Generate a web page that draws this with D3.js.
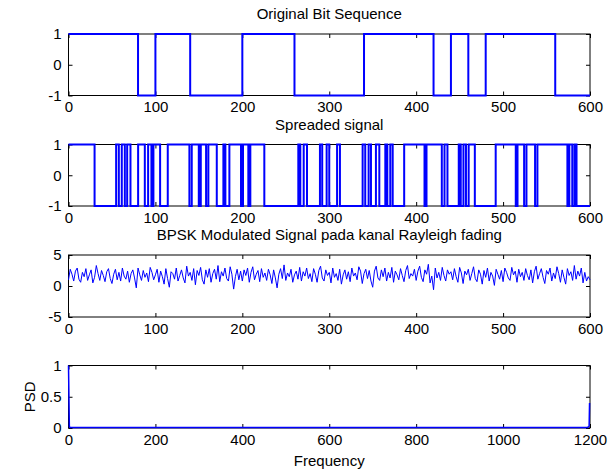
<!DOCTYPE html>
<html><head><meta charset="utf-8">
<script src="https://cdn.jsdelivr.net/npm/d3@7"></script>
<style>
body{margin:0;background:#fff}
text{font-family:"Liberation Sans",Arial,Helvetica,sans-serif;fill:#000}
</style>
</head><body>
<svg id="chart" width="616" height="472"></svg>
<script>
// ---------- data ----------
const titles = ["Original Bit Sequence", "Spreaded signal", "BPSK Modulated Signal pada kanal Rayleigh fading", ""];
const bitValues = [1,1,1,1,-1,1,1,-1,-1,-1,1,1,1,-1,-1,-1,-1,1,1,1,1,-1,1,-1,1,1,1,1,-1,-1];
const bitLength = 20;
const spreadStartLevel = 1;
const spreadTransitions = [30,54.8,57.9,61.3,64.8,67.5,71.3,80.1,87.8,91.6,95.4,97.7,105.4,114.2,139.1,141.8,
  149.9,152.2,158.3,160.9,170.6,178.2,180.5,185.1,198.5,200.8,206.9,209.2,225.3,264.4,266.7,270.6,274.4,
  289.3,291.9,297,300,309,312.3,338.4,341.4,345.3,348,353.7,357.6,364.5,366.8,370.2,373,386.2,409.6,411.9,
  429.5,432.6,436,449,451.3,454.4,457.3,460.4,467.5,491.5,514.6,516.6,524.2,526.9,536.8,539.5,574,576.2,
  579.6,582.2,584.5];
const bpskStep = 2;
const bpskValues = [
 1.0,2.7,1.9,0.8,2.4,2.9,1.1,0.6,2.2,1.5,2.8,0.9,1.8,2.6,0.5,1.4,3.3,2.0,0.9,2.5,
 1.7,0.7,2.3,2.8,1.2,0.4,1.9,2.7,1.0,2.2,0.8,2.9,1.6,1.1,2.4,0.6,2.0,2.6,1.3,-0.3,
 2.9,1.8,0.9,2.5,1.4,2.1,0.7,3.0,2.2,1.0,1.8,2.7,0.6,2.4,1.5,0.3,2.8,1.2,-0.2,2.3,
 2.0,1.1,2.9,0.8,1.7,2.6,1.3,0.5,3.2,1.6,2.2,0.9,2.8,0.2,2.5,1.7,3.0,1.0,0.3,2.6,
 1.4,2.8,0.6,2.0,2.7,1.1,3.3,0.7,2.3,1.6,2.9,1.2,0.8,3.1,1.9,-0.5,1.5,2.7,1.0,2.4,
 0.8,2.6,1.7,2.9,0.6,2.2,3.1,1.0,1.9,2.5,0.7,2.8,1.4,2.1,0.9,2.7,1.8,0.4,2.6,1.3,
 -0.3,1.9,2.8,1.2,3.4,0.9,2.1,1.5,2.7,0.6,1.8,2.4,1.1,3.0,0.8,2.3,1.6,2.9,1.2,2.0,
 0.7,2.8,1.9,0.6,2.5,3.2,1.3,0.8,2.6,1.7,2.2,0.5,2.9,1.4,2.0,0.9,2.7,0.3,1.8,2.6,
 1.1,2.3,0.7,2.9,1.6,2.1,1.0,3.1,2.4,0.4,2.0,2.7,1.2,2.5,0.8,-0.2,2.4,3.2,1.3,0.9,
 2.6,1.5,2.9,0.8,2.2,1.3,3.0,0.6,2.4,1.8,1.0,2.8,1.7,0.7,2.5,3.3,1.2,2.0,1.6,2.7,
 0.9,2.4,3.2,1.4,0.7,2.6,1.9,3.5,0.5,1.6,-0.6,2.9,1.3,2.2,0.9,3.0,1.7,0.8,2.6,1.9,
 2.3,1.0,2.8,1.5,0.6,3.0,2.1,0.4,2.4,1.8,2.7,0.9,2.0,3.1,1.2,0.7,2.6,1.9,0.3,2.5,
 1.4,2.9,0.8,2.2,1.6,0.1,2.7,1.9,1.1,2.5,0.7,2.9,2.2,1.3,0.9,3.0,1.8,2.4,0.6,2.7,
 1.5,2.2,0.9,2.8,1.7,1.0,2.6,0.5,2.3,3.2,1.1,2.0,2.8,1.4,0.4,2.5,1.9,2.9,0.8,2.1,
 1.2,3.1,2.0,0.6,2.6,1.4,0.3,2.8,1.7,2.3,0.9,3.3,1.1,2.4,1.6,2.9,0.5,2.2,0.8,1.5,
 1.0];
const psdFreq   = [0, 2, 4, 600, 1194, 1197, 1198, 1199];
const psdValues = [1, 0.02, 0.01, 0.01, 0.01, 0.02, 0.03, 0.4];
const timeTicks = [0,100,200,300,400,500,600];
const freqTicks = [0,200,400,600,800,1000,1200];
const bitTicks = [-1,0,1];
const bpskTicks = [-5,0,5];
const psdTicks = [0,0.5,1];
const xLabelText = "Frequency";
const yLabelText = "PSD";

// ---------- layout ----------
const svg = d3.select("#chart");
const left = 68.5, right = 590;
const panels = [
  {top:34, bottom:95.5, xDomain:[0,600], yDomain:[-1,1], xTicks:timeTicks, yTicks:bitTicks},
  {top:144.5, bottom:206, xDomain:[0,600], yDomain:[-1,1], xTicks:timeTicks, yTicks:bitTicks},
  {top:255, bottom:317, xDomain:[0,600], yDomain:[-5,5], xTicks:timeTicks, yTicks:bpskTicks},
  {top:365.5, bottom:428, xDomain:[0,1200], yDomain:[0,1], xTicks:freqTicks, yTicks:psdTicks}
];

// build series from data
const bitPts = bitValues.map((b,i)=>[i*bitLength,b]);
bitPts.push([bitValues.length*bitLength, bitValues[bitValues.length-1]]);
const spreadPts = [[0,spreadStartLevel]];
let lvl = spreadStartLevel;
spreadTransitions.forEach(t=>{ lvl = -lvl; spreadPts.push([t,lvl]); });
spreadPts.push([600,lvl]);
const bpskPts = bpskValues.map((v,i)=>[i*bpskStep,v]);
const psdPts = psdFreq.map((f,i)=>[f,psdValues[i]]);

const series = [
  {pts:bitPts, step:true, width:2},
  {pts:spreadPts, step:true, width:2},
  {pts:bpskPts, step:false, width:1},
  {pts:psdPts, step:false, width:1.5}
];

const fmt = d => String(d);
panels.forEach((p,k)=>{
  const x = d3.scaleLinear().domain(p.xDomain).range([left,right]);
  const y = d3.scaleLinear().domain(p.yDomain).range([p.bottom,p.top]);
  const g = svg.append("g");
  const ab = g.append("g").attr("transform",`translate(0,${p.bottom})`)
    .call(d3.axisBottom(x).tickValues(p.xTicks).tickSize(-4).tickPadding(6).tickFormat(fmt));
  const at = g.append("g").attr("transform",`translate(0,${p.top})`)
    .call(d3.axisTop(x).tickValues(p.xTicks).tickSize(-4).tickFormat(""));
  const al = g.append("g").attr("transform",`translate(${left},0)`)
    .call(d3.axisLeft(y).tickValues(p.yTicks).tickSize(-4).tickPadding(7).tickFormat(fmt));
  const ar = g.append("g").attr("transform",`translate(${right},0)`)
    .call(d3.axisRight(y).tickValues(p.yTicks).tickSize(-4).tickFormat(""));
  [ab,at,al,ar].forEach(a=>{
    a.select(".domain").remove();
    a.selectAll("line").attr("stroke","#000").attr("stroke-width",1);
    a.selectAll("text").style("font-size","15px").attr("fill","#000");
  });
  g.append("rect").attr("x",left).attr("y",p.top).attr("width",right-left).attr("height",p.bottom-p.top)
    .attr("fill","none").attr("stroke","#000").attr("stroke-width",1);
  const s = series[k];
  const line = d3.line().x(d=>x(d[0])).y(d=>y(d[1]));
  if (s.step) line.curve(d3.curveStepAfter);
  g.append("path").datum(s.pts).attr("d",line).attr("fill","none")
    .attr("stroke","#0000ff").attr("stroke-width",s.width).attr("stroke-linejoin","miter");
  if (titles[k]) {
    g.append("text").attr("x",(left+right)/2).attr("y",p.top-15).attr("text-anchor","middle")
      .style("font-size","15px").text(titles[k]);
  }
});

svg.append("text").attr("x",(left+right)/2).attr("y",466).attr("text-anchor","middle")
  .style("font-size","15px").text(xLabelText);
svg.append("text").attr("transform",`translate(35,${(panels[3].top+panels[3].bottom)/2}) rotate(-90)`)
  .attr("text-anchor","middle").style("font-size","15px").text(yLabelText);
</script>
</body></html>
